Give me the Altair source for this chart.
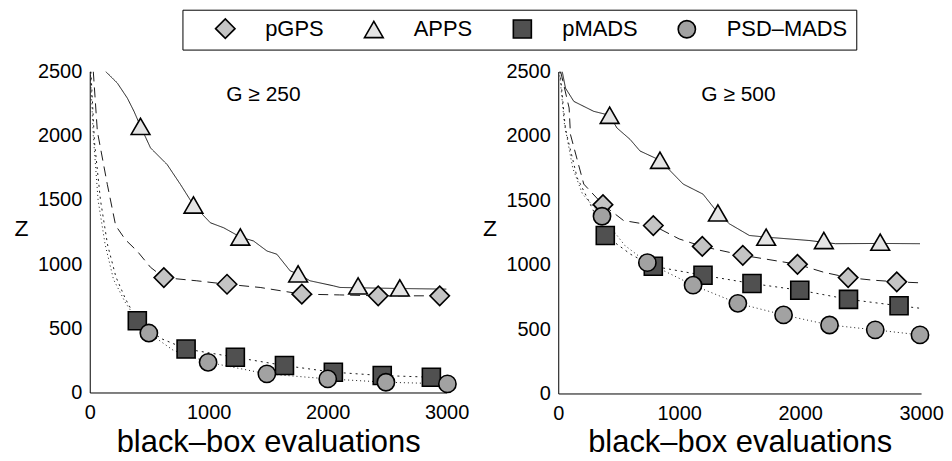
import altair as alt
import pandas as pd

METHODS = ["pGPS", "APPS", "pMADS", "PSD–MADS"]
SHAPES = ["diamond", "triangle-up", "square", "circle"]
SIZES = [380, 300, 200, 210]
FILLS = ["#c4c4c4", "#e4e4e4", "#505050", "#a2a2a2"]
OUTLINES = ["black", "black", "black", "black"]
DASHES = [[10, 6], [1, 0], [2, 4], [1, 3]]
X_TICKS = [0, 1000, 2000, 3000]
Y_TICKS = [0, 500, 1000, 1500, 2000, 2500]
PANEL_LABELS = ["G ≥ 250", "G ≥ 500"]
LABEL_POS_X = [1460, 1490]
LABEL_POS_Y = [2320, 2320]

# ---- Left panel (G >= 250): markers ----
L_PGPS_X = [623, 1154, 1783, 2425, 2942]
L_PGPS_Y = [895, 843, 766, 753, 753]
L_APPS_X = [427, 872, 1266, 1752, 2256, 2607]
L_APPS_Y = [2073, 1460, 1211, 924, 830, 815]
L_PMADS_X = [400, 810, 1224, 1637, 2048, 2459, 2872]
L_PMADS_Y = [559, 339, 274, 210, 158, 132, 119]
L_PSD_X = [497, 995, 1489, 2001, 2490, 3007]
L_PSD_Y = [463, 235, 145, 106, 80, 67]

# ---- Left panel: curves ----
L_PGPS_LX = [30, 64, 148, 218, 300, 400, 511, 623, 900, 1154, 1433, 1783, 2100, 2425, 3000]
L_PGPS_LY = [2500, 2034, 1620, 1300, 1190, 1100, 975, 895, 870, 843, 818, 766, 760, 753, 753]
L_APPS_LX = [134, 232, 316, 372, 427, 511, 651, 763, 872, 1014, 1126, 1266, 1377, 1490, 1573, 1685, 1752, 1852, 2048, 2104, 2600, 3000]
L_APPS_LY = [2500, 2410, 2293, 2190, 2073, 1905, 1775, 1620, 1460, 1322, 1283, 1211, 1180, 1102, 1077, 947, 924, 870, 831, 818, 810, 805]
L_PMADS_LX = [10, 40, 90, 150, 220, 300, 400, 600, 810, 1224, 1637, 2048, 2459, 2872, 3000]
L_PMADS_LY = [2500, 1950, 1500, 1150, 900, 730, 559, 420, 339, 274, 210, 158, 132, 119, 115]
L_PSD_LX = [5, 30, 70, 130, 200, 300, 400, 497, 700, 995, 1489, 2001, 2490, 3007]
L_PSD_LY = [2500, 2000, 1500, 1150, 880, 700, 560, 463, 330, 235, 145, 106, 80, 67]

# ---- Right panel (G >= 500): markers ----
R_PGPS_X = [370, 786, 1191, 1526, 1978, 2397, 2799]
R_PGPS_Y = [1466, 1304, 1142, 1073, 1003, 900, 867]
R_APPS_X = [425, 841, 1320, 1719, 2196, 2662]
R_APPS_Y = [2160, 1811, 1402, 1214, 1188, 1175]
R_PMADS_X = [389, 786, 1197, 1602, 1997, 2400, 2818]
R_PMADS_Y = [1227, 988, 918, 854, 802, 731, 681]
R_PSD_X = [362, 737, 1115, 1485, 1863, 2243, 2621, 2991]
R_PSD_Y = [1376, 1016, 841, 700, 610, 532, 494, 455]

# ---- Right panel: curves ----
R_PGPS_LX = [20, 90, 101, 211, 370, 540, 786, 1000, 1191, 1526, 1978, 2200, 2397, 2600, 2799, 3000]
R_PGPS_LY = [2500, 2217, 2011, 1626, 1466, 1343, 1304, 1200, 1142, 1073, 1003, 940, 900, 880, 867, 859]
R_APPS_LX = [33, 60, 129, 293, 425, 485, 594, 676, 841, 1033, 1197, 1320, 1416, 1580, 1719, 2073, 2293, 2662, 2991]
R_APPS_LY = [2500, 2371, 2268, 2191, 2160, 2062, 1973, 1883, 1811, 1626, 1548, 1402, 1317, 1227, 1214, 1188, 1163, 1165, 1163]
R_PMADS_LX = [15, 60, 156, 238, 389, 600, 786, 1197, 1602, 1997, 2400, 2818, 3000]
R_PMADS_LY = [2500, 2050, 1677, 1522, 1227, 1080, 988, 918, 854, 802, 731, 681, 661]
R_PSD_LX = [10, 50, 120, 200, 362, 550, 737, 1115, 1485, 1863, 2243, 2621, 2991]
R_PSD_LY = [2500, 2100, 1750, 1550, 1376, 1150, 1016, 841, 700, 610, 532, 494, 455]

FONT = "Liberation Sans"


def frame(series):
    rows = []
    for name, xs, ys in series:
        for i, (a, b) in enumerate(zip(xs, ys)):
            rows.append({"x": a, "y": b, "method": name, "order": i})
    return pd.DataFrame(rows)


left_markers = frame([("pGPS", L_PGPS_X, L_PGPS_Y), ("APPS", L_APPS_X, L_APPS_Y),
                      ("pMADS", L_PMADS_X, L_PMADS_Y), ("PSD–MADS", L_PSD_X, L_PSD_Y)])
left_lines = frame([("pGPS", L_PGPS_LX, L_PGPS_LY), ("APPS", L_APPS_LX, L_APPS_LY),
                    ("pMADS", L_PMADS_LX, L_PMADS_LY), ("PSD–MADS", L_PSD_LX, L_PSD_LY)])
right_markers = frame([("pGPS", R_PGPS_X, R_PGPS_Y), ("APPS", R_APPS_X, R_APPS_Y),
                       ("pMADS", R_PMADS_X, R_PMADS_Y), ("PSD–MADS", R_PSD_X, R_PSD_Y)])
right_lines = frame([("pGPS", R_PGPS_LX, R_PGPS_LY), ("APPS", R_APPS_LX, R_APPS_LY),
                     ("pMADS", R_PMADS_LX, R_PMADS_LY), ("PSD–MADS", R_PSD_LX, R_PSD_LY)])

LEGEND = alt.Legend(
    title=" ", titleOrient="left", titleFontSize=10, titlePadding=24,
    orient="none", legendX=93, legendY=-62, direction="horizontal",
    columns=4, strokeColor="black", padding=8, labelFontSize=22, labelFont=FONT,
    labelColor="black", symbolStrokeColor="black",
    symbolStrokeWidth=1.6, columnPadding=37, labelOffset=29, fillColor="white",
)


def panel(markers, lines, idx, width, height, title_y, legend):
    x = alt.X("x:Q", scale=alt.Scale(domain=[0, 3000], nice=False),
              axis=alt.Axis(values=X_TICKS, title="black–box evaluations",
                            titleFontSize=31, titleY=title_y, titleBaseline="alphabetic",
                            labelPadding=10, format="d", labelFlush=False))
    y = alt.Y("y:Q", scale=alt.Scale(domain=[0, 2500], nice=False),
              axis=alt.Axis(values=Y_TICKS, title="Z", titleAngle=0, titleX=-69,
                            titleY=158, titleFontSize=23, titleAlign="center",
                            titleBaseline="middle", labelPadding=8, format="d",
                            labelFlush=False))
    line_layer = alt.Chart(lines).mark_line(color="black", strokeWidth=0.9, clip=True).encode(
        x=x, y=y, detail="method:N", order="order:Q",
        strokeDash=alt.StrokeDash("method:N", scale=alt.Scale(domain=METHODS, range=DASHES), legend=None),
    )
    point_layer = alt.Chart(markers).mark_point(filled=True, strokeWidth=1.6,
                                                 opacity=1).encode(
        x=x, y=y,
        shape=alt.Shape("method:N", scale=alt.Scale(domain=METHODS, range=SHAPES), legend=legend),
        fill=alt.Fill("method:N", scale=alt.Scale(domain=METHODS, range=FILLS), legend=legend),
        stroke=alt.Stroke("method:N", scale=alt.Scale(domain=METHODS, range=OUTLINES), legend=legend),
        size=alt.Size("method:N", scale=alt.Scale(domain=METHODS, range=SIZES), legend=legend),
    )
    label_df = pd.DataFrame({"x": [LABEL_POS_X[idx]], "y": [LABEL_POS_Y[idx]], "t": [PANEL_LABELS[idx]]})
    text_layer = alt.Chart(label_df).mark_text(fontSize=21, font=FONT, color="black").encode(
        x=x, y=y, text="t:N")
    return alt.layer(line_layer, point_layer, text_layer).properties(width=width, height=height)


left = panel(left_markers, left_lines, 0, 358, 322, 59, LEGEND)
right = panel(right_markers, right_lines, 1, 364, 323, 58, None)

chart = alt.hconcat(left, right, spacing=112, bounds="flush").resolve_scale(
    shape="shared", fill="shared", strokeDash="shared", size="shared", stroke="shared"
).resolve_legend(
    shape="independent", fill="independent", size="independent", stroke="independent"
).properties(
    padding={"left": 5, "top": 0, "right": 0, "bottom": 0}
).configure_view(stroke=None).configure_axis(
    labelFont=FONT, labelFontSize=20, labelColor="black", titleFont=FONT,
    titleColor="black", titleFontWeight="normal", domainColor="black",
    domainWidth=1, ticks=False, grid=False,
)

chart.save("out.html", embed_options={"renderer": "svg", "actions": False})
